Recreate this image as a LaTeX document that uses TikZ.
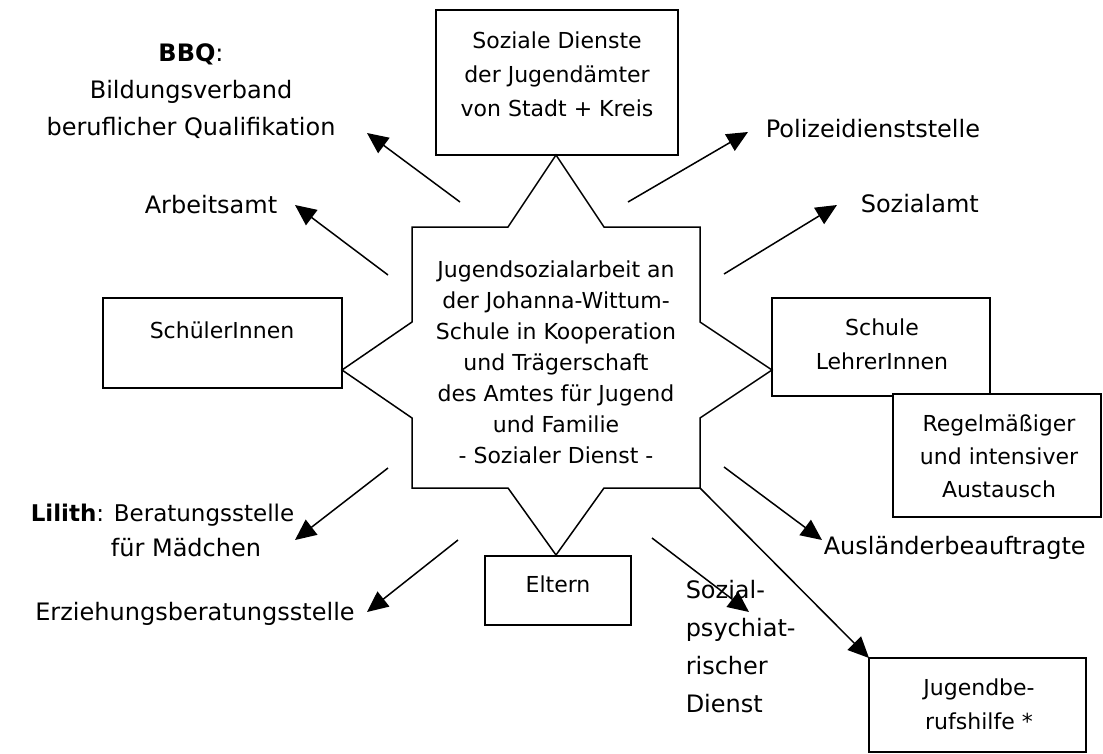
\documentclass[tikz,border=0pt]{standalone}
\usepackage{fontspec}
\setmainfont{DejaVu Sans}
\usetikzlibrary{arrows.meta}
\begin{document}
\begin{tikzpicture}[x=1pt,y=-1pt,line width=1.5pt,
  box/.style={draw,line width=1.5pt,fill=white,inner sep=0pt},
  lbl/.style={font=\fontsize{24}{37}\selectfont,align=center,inner sep=0pt},
  btxt/.style={font=\fontsize{22}{34}\selectfont,align=center,inner sep=0pt},
  arr/.style={-{Triangle[length=21pt,width=19pt]},line width=1.5pt}]
\useasboundingbox (0,0) rectangle (1103,753);
% star
\coordinate (tT) at (556,155);
\coordinate (tL) at (508,227);
\coordinate (tR) at (604,227);
\coordinate (cNE) at (700,227);
\coordinate (rU) at (700,322);
\coordinate (rT) at (772,370);
\coordinate (rD) at (700,418);
\coordinate (cSE) at (700,488);
\coordinate (bR) at (604,488);
\coordinate (bT) at (556,555);
\coordinate (bL) at (508,488);
\coordinate (cSW) at (412,488);
\coordinate (lD) at (412,418);
\coordinate (lT) at (342,370);
\coordinate (lU) at (412,322);
\coordinate (cNW) at (412,227);
\draw[line join=miter] (tT) -- (tR) -- (cNE) -- (rU) -- (rT) -- (rD) -- (cSE) -- (bR) -- (bT) -- (bL) -- (cSW) -- (lD) -- (lT) -- (lU) -- (cNW) -- (tL) -- cycle;
\node[btxt,font=\fontsize{22}{31}\selectfont] (star) at (556,362) {Jugendsozialarbeit an\\der Johanna-Wittum-\\Schule in Kooperation\\und Trägerschaft\\des Amtes für Jugend\\und Familie\\- Sozialer Dienst -};
% boxes
\draw (436,10) rectangle (678,155);
\node[btxt] (sd) at (557,74) {Soziale Dienste\\der Jugendämter\\von Stadt + Kreis};
\draw (103,298) rectangle (342,388);
\node[btxt] (sch) at (222,330) {SchülerInnen};
\draw (772,298) rectangle (990,396);
\node[btxt] (schule) at (882,344) {Schule\\LehrerInnen};
\draw[fill=white] (893,394) rectangle (1101,517);
\node[btxt,font=\fontsize{22}{33}\selectfont] (regel) at (999,456) {Regelmäßiger\\und intensiver\\Austausch};
\draw (485,556) rectangle (631,625);
\node[btxt] (eltern) at (558,584) {Eltern};
\draw (869,658) rectangle (1086,752);
\node[btxt] (jbh) at (979,704) {Jugendbe-\\rufshilfe *};
% labels
\node[lbl] (bbq) at (191,91) {\textbf{BBQ}:\\Bildungsverband\\beruflicher Qualifikation};
\node[lbl] (aa) at (211,205) {Arbeitsamt};
\node[lbl,anchor=west] (pol) at (765,129) {Polizeidienststelle};
\node[lbl,anchor=west] (sa) at (860,204) {Sozialamt};
\node[lbl,anchor=west,font=\fontsize{23}{34}\selectfont] (lil) at (30,515) {\textbf{Lilith}: Beratungsstelle};
\node[lbl] (lil2) at (186,548) {für Mädchen};
\node[lbl] (erz) at (195,614) {Erziehungsberatungsstelle};
\node[lbl,anchor=west] (aus) at (823,548) {Ausländerbeauftragte};
\node[lbl,align=left,anchor=north west,font=\fontsize{24}{38}\selectfont] (spd) at (685,580) {Sozial-\\psychiat-\\rischer\\Dienst};
% arrow ends
\coordinate (a1s) at (460,202); \coordinate (a1e) at (367,133);
\coordinate (a2s) at (388,275); \coordinate (a2e) at (295,205);
\coordinate (a3s) at (628,202); \coordinate (a3e) at (748,132);
\coordinate (a4s) at (724,274); \coordinate (a4e) at (837,205);
\coordinate (a5s) at (724,467); \coordinate (a5e) at (822,540);
\coordinate (a6e) at (869,658);
\coordinate (a7s) at (652,538); \coordinate (a7e) at (749,612);
\coordinate (a8s) at (458,540); \coordinate (a8e) at (367,612);
\coordinate (a9s) at (388,468); \coordinate (a9e) at (295,540);
\draw[arr] (a1s) -- (a1e);
\draw[arr] (a2s) -- (a2e);
\draw[arr] (a3s) -- (a3e);
\draw[arr] (a4s) -- (a4e);
\draw[arr] (a5s) -- (a5e);
\draw[arr] (cSE) -- (a6e);
\draw[arr] (a7s) -- (a7e);
\draw[arr] (a8s) -- (a8e);
\draw[arr] (a9s) -- (a9e);
\end{tikzpicture}
\end{document}
